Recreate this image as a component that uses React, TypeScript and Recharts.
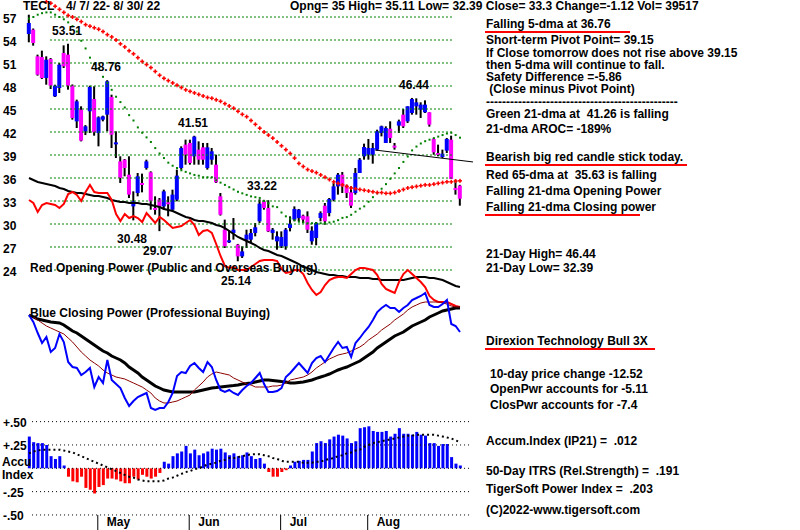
import React from "react";
import { ComposedChart, Bar, Line, XAxis, YAxis, ReferenceLine, Cell } from "recharts";

// TECL daily bars 4/7/22 - 8/30/22 (100 sessions)
const opens = [
  54.78, 55.35, 51.87, 51.78, 49.04, 51.52, 46.65, 47.74, 52.3, 52.09,
  48.04, 43.39, 44.91, 42.09, 44.7, 46.3, 41.87, 43.61, 44.26, 46.57,
  40.43, 38.17, 38.39, 36.43, 32.3, 34.04, 35.35, 37.3, 36.74, 32.09,
  33.17, 32.3, 32.83, 31.87, 33.17, 37.3, 40.35, 40.57, 38.83, 39.7,
  40.0, 37.3, 38.39, 37.74, 33.61, 29.26, 27.61, 28.83, 27.3, 25.78,
  27.96, 27.96, 28.83, 30.35, 32.96, 32.09, 28.83, 27.74, 27.09, 27.09,
  29.48, 30.57, 30.78, 31.09, 31.0, 27.74, 28.17, 30.78, 32.39, 31.43,
  33.17, 34.91, 36.43, 34.91, 34.13, 34.04, 36.65, 38.83, 39.04, 39.04,
  39.7, 41.87, 40.57, 42.43, 40.22, 42.83, 44.26, 43.39, 44.48, 45.35,
  44.91, 44.57, 44.57, 41.09, 39.26, 38.74, 39.57, 41.0, 34.7, 35.0,
];
const highs = [
  57.3, 55.5, 52.09, 52.61, 51.87, 51.65, 48.17, 51.0, 53.3, 53.51,
  48.2, 46.22, 45.35, 42.9, 48.04, 47.96, 44.04, 44.13, 48.76, 46.87,
  42.09, 38.83, 38.48, 38.83, 34.26, 36.65, 36.57, 38.39, 36.87, 33.61,
  33.39, 34.48, 33.61, 34.48, 37.09, 40.13, 41.0, 41.0, 41.51, 40.78,
  40.57, 40.57, 39.91, 39.04, 34.04, 30.57, 29.17, 30.78, 27.4, 27.09,
  29.26, 29.35, 30.13, 33.22, 33.15, 33.1, 29.48, 29.04, 29.04, 29.48,
  31.0, 32.3, 31.96, 31.22, 31.65, 29.7, 30.26, 31.65, 32.74, 33.39,
  35.35, 36.65, 36.78, 35.13, 34.91, 37.3, 38.61, 40.48, 41.09, 40.57,
  42.3, 42.83, 42.74, 43.39, 40.57, 43.61, 45.0, 45.35, 46.44, 46.39,
  45.87, 46.13, 44.57, 41.22, 40.35, 39.7, 41.22, 41.52, 35.78, 35.11,
];
const lows = [
  53.7, 53.26, 49.35, 48.91, 48.17, 47.61, 46.57, 47.09, 50.35, 47.52,
  43.61, 42.52, 40.78, 41.6, 41.87, 41.52, 40.13, 43.39, 42.09, 39.91,
  38.61, 35.35, 36.22, 33.39, 30.48, 33.61, 34.13, 37.09, 31.87, 31.22,
  29.07, 31.87, 31.0, 31.65, 32.96, 37.09, 37.74, 37.74, 37.74, 37.74,
  37.74, 37.09, 37.74, 35.35, 31.1, 26.87, 27.52, 27.96, 25.14, 25.57,
  26.87, 27.52, 28.39, 30.13, 31.87, 28.95, 27.96, 26.65, 26.87, 26.65,
  29.04, 30.35, 30.35, 30.13, 28.83, 27.3, 27.22, 30.35, 29.91, 31.0,
  32.96, 33.83, 34.04, 33.39, 32.09, 33.83, 36.65, 38.39, 38.39, 37.87,
  39.57, 41.43, 40.57, 40.57, 39.7, 41.87, 42.52, 43.17, 44.26, 44.26,
  43.83, 44.48, 42.7, 39.04, 38.83, 38.61, 39.26, 35.87, 33.83, 32.39,
];
const closes = [
  56.22, 53.61, 49.48, 49.04, 51.43, 48.04, 48.04, 50.78, 50.57, 48.04,
  43.83, 46.0, 40.87, 42.74, 47.87, 41.96, 43.91, 44.04, 48.61, 41.65,
  40.65, 36.0, 37.3, 33.83, 32.96, 36.22, 35.13, 38.17, 32.96, 31.87,
  32.3, 34.26, 32.65, 33.83, 36.3, 39.91, 39.04, 37.96, 41.4, 38.39,
  38.39, 40.0, 39.48, 35.43, 31.22, 27.09, 27.87, 29.26, 25.78, 26.43,
  28.61, 28.83, 29.57, 32.65, 32.09, 29.04, 29.26, 28.39, 28.3, 29.26,
  30.04, 31.96, 31.87, 30.57, 29.26, 29.13, 30.13, 31.43, 30.35, 33.26,
  34.91, 36.43, 34.91, 34.04, 32.39, 36.65, 38.39, 40.04, 39.91, 39.91,
  42.09, 42.74, 42.52, 41.22, 40.04, 43.39, 42.74, 45.35, 46.3, 45.87,
  45.57, 45.57, 42.96, 39.35, 39.04, 39.17, 41.09, 35.87, 34.42, 33.3,
];

// green 21-dma and red 65-dma of the close
const ma21 = [
  56.8, 57.0, 57.3, 57.5, 57.6, 57.6, 57.3, 57.0, 56.7, 56.3,
  55.8, 55.1, 53.9, 52.9, 51.7, 50.9, 50.3, 49.2, 48.4, 47.5,
  46.6, 45.9, 45.2, 44.2, 43.5, 42.6, 41.9, 41.3, 40.7, 39.9,
  39.2, 38.6, 38.0, 37.6, 37.3, 37.0, 36.8, 36.6, 36.4, 36.3,
  36.1, 36.1, 36.1, 35.7, 35.4, 35.1, 34.8, 34.5, 34.2, 34.0,
  33.8, 33.6, 33.5, 33.4, 33.0, 32.7, 32.3, 32.2, 31.5, 31.0,
  30.7, 30.5, 30.3, 30.2, 30.1, 30.1, 30.1, 30.1, 30.1, 30.2,
  30.3, 30.5, 30.8, 30.9, 31.2, 31.6, 32.0, 32.3, 32.9, 33.5,
  34.0, 34.6, 35.2, 35.9, 36.6, 37.3, 38.1, 38.8, 39.6, 40.1,
  40.5, 40.8, 41.0, 41.2, 41.4, 41.6, 41.8, 41.9, 41.6, 41.26,
];
const ma65 = [
  null, null, null, null, 59.0, 58.8, 58.4, 58.0, 57.6, 57.2,
  57.0, 56.7, 56.4, 56.0, 55.8, 55.6, 55.4, 55.1, 54.7, 54.4,
  54.0, 53.5, 53.1, 52.6, 52.2, 51.7, 51.2, 50.8, 50.4, 49.9,
  49.4, 49.0, 48.7, 48.4, 48.1, 47.8, 47.5, 47.3, 47.1, 46.9,
  46.7, 46.5, 46.4, 46.2, 46.0, 45.7, 45.4, 45.1, 44.7, 44.3,
  44.0, 43.5, 43.0, 42.5, 42.0, 41.6, 41.2, 40.7, 40.2, 39.7,
  39.2, 38.6, 37.9, 37.5, 37.1, 36.9, 36.7, 36.4, 36.1, 35.8,
  35.5, 35.3, 35.1, 34.9, 34.7, 34.6, 34.5, 34.4, 34.3, 34.2,
  34.1, 34.1, 34.0, 34.0, 34.1, 34.3, 34.5, 34.7, 34.8, 34.9,
  35.0, 35.1, 35.1, 35.2, 35.3, 35.4, 35.5, 35.5, 35.6, 35.63,
];

// opening / closing power (index units) and their averages
const openPower = [
  80, 78.5, 74, 77.5, 78.5, 78, 77.5, 76, 78, 83,
  84, 82.5, 79.5, 84, 87.5, 84, 83.5, 83.5, 83.5, 80,
  73, 69.5, 73, 71, 72, 71, 69, 73.5, 71, 68.5,
  71.5, 70, 68, 66, 66.5, 67, 68.5, 70, 67.5, 62.5,
  64.5, 65, 63.5, 58, 52, 47, 46, 46.5, 45, 45,
  45, 46.5, 48, 49.5, 50, 50, 50, 49.5, 45.5, 43.5,
  44, 45, 45, 43, 38.5, 35, 32.5, 34, 37.5, 40,
  41, 41.5, 41.5, 41, 43, 45, 46, 46, 45.5, 45,
  42.5, 38, 35.5, 34.5, 33.5, 39, 43, 45, 43, 41,
  39, 36.5, 32, 30, 29, 29, 29, 28, 27, 26.5,
];
const openPowerMa = [
  91, 90, 89, 88.5, 88, 87.5, 87, 86, 85.5, 84.5,
  84, 83.5, 83.5, 83, 82.5, 82, 82, 81.5, 81, 80,
  79.5, 79, 79, 78.5, 78.5, 78.5, 78, 78, 77.5, 77,
  76.5, 75.5, 75, 74.5, 73.5, 72.5, 71.5, 71, 70, 69.5,
  69.5, 69, 68.5, 67.5, 67, 66, 64.5, 63, 61.5, 60.5,
  59.5, 58.5, 57.5, 56, 55, 54.5, 53.5, 52.5, 52, 51,
  50, 49, 48, 46.5, 46, 45, 44, 43.5, 43, 42.5,
  42.5, 42, 42, 41.5, 41.5, 41.5, 41, 41, 41, 40.5,
  40.5, 40, 40, 40, 40, 40, 40, 40.5, 41, 41.5,
  41.5, 41.5, 41, 41, 40.5, 40, 39, 38, 37, 36.5,
];
const closePower = [
  22.5, 19, 13.5, 8.5, 11.5, 4, 6, 13, 9, -1,
  -3.5, -4, -7.5, -6, -4, -13.5, -8.5, -11.5, 0, -10,
  -12, -14, -19, -23, -20.5, -18.5, -17.5, -16.5, -24, -25,
  -24, -24, -21, -16.5, -8, -6, -6.5, -3, -1.5, -4,
  -6, -1, -3.5, -10, -15, -16, -15, -16.5, -17.5, -15,
  -13, -11.5, -9, -6.5, -12, -16, -16, -15.5, -14, -8.5,
  -6.5, -4, -1.5, -4, -6.5, -1.5, 1, 2, -1, 2.5,
  6, 9, 6, 6.5, 1.5, 8.5, 11, 14, 16.5, 20,
  24, 26, 27.5, 26, 26, 24, 26, 27.5, 30, 31,
  32, 33.5, 27.5, 26.5, 26.5, 28, 30, 18, 17, 14,
];
const closePowerMa = [
  22.5, 21.5, 20.5, 20, 19.5, 19, 18.8, 18.5, 17.5, 16,
  14.5, 13.5, 12, 10.5, 9, 7.5, 6, 4.5, 3.5, 2,
  1, 0, -1.5, -3.5, -5, -6.5, -8.5, -10, -11.5, -13,
  -14, -15, -15.5, -16, -16, -16, -16, -16, -16, -15.5,
  -15, -14.5, -14, -13.8, -13.5, -13.2, -13, -12.8, -12.5, -12,
  -11.8, -11.5, -11, -10.5, -10, -10, -10.2, -10.5, -10.8, -11,
  -11.5, -11.5, -11.2, -11, -10.5, -10, -9.2, -8.5, -7.8, -7,
  -6, -5, -4.2, -3.5, -2.5, -1.5, -0.5, 1, 2.5, 4,
  6, 7.5, 9, 10.5, 12, 13, 14, 15.5, 17, 18,
  19, 20, 21.5, 22.5, 23.5, 24.5, 25, 25.5, 26, 26,
];
const closePowerFast = [
  22.5, 21.5, 20, 18.5, 17, 16, 15, 14, 13, 11,
  9, 6.5, 4, 2, 0, -1.5, -3, -5, -6.5, -7.5,
  -8.5, -9, -9.5, -10.5, -11.5, -12.5, -13.5, -15, -16.5, -19,
  -20.5, -21.5, -21.5, -21, -20.5, -19.5, -18.5, -17.5, -15, -13,
  -11, -8.5, -7, -6, -6.5, -7, -7.5, -9, -10, -11,
  -12, -12.5, -13.5, -13.5, -13.5, -13.5, -13, -13, -12.5, -11.5,
  -10, -9.5, -9, -8.5, -7.5, -6, -4, -2.5, -1, 0.5,
  1.5, 2.5, 3, 3.5, 4.5, 5.5, 6.5, 8, 10, 11.5,
  13, 15, 16.5, 18, 20, 21.5, 23, 25, 26.5, 27.5,
  28.5, 29, 29, 29, 29, 28.5, 28, 27, 26.5, 26.5,
];

// accumulation index (IP21) and its average
const accum = [
  0.34, 0.28, 0.27, 0.27, 0.25, 0.13, 0.1, 0.13, 0.03, -0.09,
  -0.14, -0.15, -0.09, -0.21, -0.23, -0.27, -0.2, -0.18, -0.11, -0.11,
  -0.12, -0.14, -0.16, -0.16, -0.09, -0.12, -0.07, -0.09, -0.11, -0.09,
  -0.05, 0.07, 0.05, 0.13, 0.16, 0.18, 0.24, 0.16, 0.2, 0.14,
  0.16, 0.18, 0.21, 0.2, 0.21, 0.17, 0.14, 0.16, 0.13, 0.14,
  0.17, 0.13, 0.1, 0.11, 0.05, -0.04, -0.09, -0.09, -0.04, -0.02,
  0.03, 0.07, 0.08, 0.09, 0.09, 0.18, 0.27, 0.29, 0.27, 0.31,
  0.34, 0.36, 0.35, 0.32, 0.27, 0.29, 0.43, 0.44, 0.45, 0.4,
  0.39, 0.39, 0.4, 0.34, 0.37, 0.43, 0.37, 0.37, 0.36, 0.39,
  0.36, 0.35, 0.27, 0.27, 0.24, 0.26, 0.26, 0.12, 0.05, 0.03,
];
const accumMa = [
  0.16, 0.18, 0.19, 0.2, 0.2, 0.2, 0.2, 0.2, 0.19, 0.18,
  0.17, 0.15, 0.13, 0.11, 0.09, 0.07, 0.05, 0.03, 0.01, -0.01,
  -0.03, -0.05, -0.07, -0.09, -0.1, -0.12, -0.13, -0.14, -0.14, -0.14,
  -0.14, -0.13, -0.11, -0.1, -0.08, -0.06, -0.04, -0.03, -0.01, 0,
  0.02, 0.04, 0.05, 0.06, 0.08, 0.09, 0.11, 0.11, 0.12, 0.13,
  0.14, 0.15, 0.15, 0.15, 0.14, 0.13, 0.11, 0.1, 0.08, 0.07,
  0.07, 0.07, 0.07, 0.06, 0.06, 0.06, 0.07, 0.07, 0.09, 0.1,
  0.11, 0.13, 0.14, 0.16, 0.17, 0.19, 0.2, 0.23, 0.25, 0.27,
  0.28, 0.29, 0.3, 0.31, 0.32, 0.33, 0.34, 0.35, 0.35, 0.36,
  0.36, 0.36, 0.36, 0.36, 0.35, 0.34, 0.33, 0.32, 0.3, 0.28,
];

const priceTicks = [57, 54, 51, 48, 45, 42, 39, 36, 33, 30, 27, 24];
const accumTicks = [0.5, 0.25, 0, -0.25, -0.5];
const accumTickLabels = ["+.50", "+.25", "", "-.25", "-.50"];
const months = [
  { name: "May", start: 16 },
  { name: "Jun", start: 37 },
  { name: "Jul", start: 58 },
  { name: "Aug", start: 78 },
];

const FONT = "'Liberation Sans', Arial, sans-serif";

const rows = opens.map((o, i) => ({
  i,
  o,
  h: highs[i],
  l: lows[i],
  c: closes[i],
  range: [lows[i], highs[i]],
  ma21: ma21[i],
  ma65: ma65[i],
  op: openPower[i],
  opMa: openPowerMa[i],
  cp: closePower[i],
  cpMa: closePowerMa[i],
  cpFast: closePowerFast[i],
  acc: accum[i],
  accMa: accumMa[i],
}));

const Candle = (props: any) => {
  const { x, y, width, height, payload } = props;
  if (!payload || x == null || y == null) return <g />;
  const top0 = height >= 0 ? y : y + height;
  const h = Math.abs(height);
  const span = payload.h - payload.l || 1;
  const toY = (v: number) => top0 + ((payload.h - v) / span) * h;
  const up = payload.c >= payload.o;
  const bTop = toY(Math.max(payload.o, payload.c));
  const bBot = toY(Math.min(payload.o, payload.c));
  const cx = x + width / 2;
  return (
    <g>
      <rect x={cx - 1} y={top0} width={2} height={Math.max(h, 1)} fill="#000" />
      <rect
        x={x}
        y={bTop}
        width={width}
        height={Math.max(bBot - bTop, 2)}
        fill={up ? "#0000ff" : "#ff00ff"}
      />
    </g>
  );
};

const GreenDot = (p: any) => {
  if (p.cx == null || p.cy == null || p.value == null) return <g key={p.key} />;
  return <rect key={p.key} x={p.cx - 1} y={p.cy - 1} width={2} height={2} fill="#008000" />;
};

const RedCross = (p: any) => {
  if (p.cx == null || p.cy == null || p.value == null) return <g key={p.key} />;
  return (
    <g key={p.key}>
      <rect x={p.cx - 2} y={p.cy - 0.75} width={4} height={1.5} fill="#ff0000" />
      <rect x={p.cx - 0.75} y={p.cy - 2} width={1.5} height={4} fill="#ff0000" />
    </g>
  );
};

const TickText = ({ viewBox, text, dy }: any) =>
  viewBox ? (
    <text x={3} y={viewBox.y + dy} fontSize={12} fontWeight="bold" fontFamily={FONT} fill="#000">
      {text}
    </text>
  ) : null;

const MonthText = ({ viewBox, text }: any) =>
  viewBox ? (
    <text x={viewBox.x + 9} y={526} fontSize={12} fontWeight="bold" fontFamily={FONT} fill="#000">
      {text}
    </text>
  ) : null;

const T = ({ x, y, children, lh = 11 }: any) => (
  <div
    style={{
      position: "absolute",
      left: x,
      top: y,
      fontSize: 12,
      lineHeight: `${lh}px`,
      fontWeight: "bold",
      fontFamily: FONT,
      whiteSpace: "pre",
      color: "#000",
    }}
  >
    {children}
  </div>
);

const Underline = ({ x, y, w }: any) => (
  <div style={{ position: "absolute", left: x, top: y, width: w, height: 2, background: "#ff0000" }} />
);

export default function App() {
  return (
    <div style={{ position: "absolute", left: 0, top: 0, width: 800, height: 530, background: "#fff", overflow: "hidden" }}>
      <ComposedChart width={800} height={530} data={rows} margin={{ top: 0, right: 0, bottom: 0, left: 0 }}>
        <XAxis xAxisId="main" type="number" dataKey="i" domain={[-6.661, 177.1]} allowDataOverflow hide />
        <XAxis xAxisId="acc" type="number" dataKey="i" domain={[-6.661, 177.1]} allowDataOverflow hide />
        <YAxis yAxisId="price" domain={[-9.913, 59.2174]} allowDataOverflow hide />
        <YAxis yAxisId="power" domain={[-85, 180]} allowDataOverflow hide />
        <YAxis yAxisId="acc" domain={[-0.6611, 5.0175]} allowDataOverflow hide />

        {priceTicks.map((t) => (
          <ReferenceLine
            key={`p${t}`}
            xAxisId="main"
            yAxisId="price"
            segment={[{ x: 4.82, y: t }, { x: 97.4, y: t }]}
            stroke="#008000"
            strokeDasharray="2 2"
            ifOverflow="visible"
            label={<TickText text={String(t)} dy={6} />}
          />
        ))}
        {accumTicks.map((t, k) => (
          <ReferenceLine
            key={`a${t}`}
            xAxisId="acc"
            yAxisId="acc"
            segment={[{ x: 0.7, y: t }, { x: 101.7, y: t }]}
            stroke="#000"
            strokeDasharray="1 3"
            ifOverflow="visible"
            label={<TickText text={accumTickLabels[k]} dy={5} />}
          />
        ))}
        {months.map((m) => (
          <ReferenceLine
            key={m.name}
            xAxisId="acc"
            yAxisId="acc"
            segment={[{ x: m.start - 0.2, y: -0.5 }, { x: m.start - 0.2, y: -0.6611 }]}
            stroke="#000"
            strokeWidth={1}
            ifOverflow="visible"
            label={<MonthText text={m.name} />}
          />
        ))}
        <ReferenceLine
          xAxisId="main"
          yAxisId="price"
          segment={[{ x: 79.5, y: 39.65 }, { x: 102, y: 38.09 }]}
          stroke="#000"
          strokeWidth={1}
          ifOverflow="visible"
        />

        <Bar xAxisId="acc" yAxisId="acc" dataKey="acc" barSize={3} isAnimationActive={false}>
          {rows.map((r) => (
            <Cell key={r.i} fill={r.acc >= 0 ? "#0000ff" : "#ff0000"} />
          ))}
        </Bar>
        <Line xAxisId="acc" yAxisId="acc" dataKey="accMa" stroke="#000" strokeWidth={2} strokeDasharray="2 3" dot={false} activeDot={false} isAnimationActive={false} />

        <Line xAxisId="main" yAxisId="power" dataKey="opMa" stroke="#000" strokeWidth={2} dot={false} activeDot={false} isAnimationActive={false} />
        <Line xAxisId="main" yAxisId="power" dataKey="op" stroke="#ff0000" strokeWidth={2} dot={false} activeDot={false} isAnimationActive={false} />
        <Line xAxisId="main" yAxisId="power" dataKey="cpMa" stroke="#000" strokeWidth={3} dot={false} activeDot={false} isAnimationActive={false} />
        <Line xAxisId="main" yAxisId="power" dataKey="cpFast" stroke="#8b0000" strokeWidth={1} dot={false} activeDot={false} isAnimationActive={false} />
        <Line xAxisId="main" yAxisId="power" dataKey="cp" stroke="#0000ff" strokeWidth={2} dot={false} activeDot={false} isAnimationActive={false} />

        <Bar xAxisId="main" yAxisId="price" dataKey="range" barSize={4} shape={<Candle />} isAnimationActive={false} />
        <Line xAxisId="main" yAxisId="price" dataKey="ma21" stroke="none" dot={<GreenDot />} activeDot={false} isAnimationActive={false} />
        <Line xAxisId="main" yAxisId="price" dataKey="ma65" stroke="none" dot={<RedCross />} activeDot={false} isAnimationActive={false} />
      </ComposedChart>

      <T x={23} y={1}>TECL</T>
      <T x={66} y={1}>4/ 7/ 22- 8/ 30/ 22</T>
      <T x={290} y={1}>Opng= 35 High= 35.11 Low= 32.39 Close= 33.3 Change=-1.12 Vol= 39517</T>

      <T x={52} y={26}>53.51</T>
      <T x={91} y={62}>48.76</T>
      <T x={178} y={118}>41.51</T>
      <T x={247} y={181}>33.22</T>
      <T x={399} y={80}>46.44</T>
      <T x={117} y={234}>30.48</T>
      <T x={143} y={246}>29.07</T>
      <T x={221} y={276}>25.14</T>
      <T x={30} y={263}>Red Opening Power (Public and Overseas Buying)</T>
      <T x={30} y={308}>Blue Closing Power (Professional Buying)</T>

      <T x={2} y={456} lh={13}>{"Accu\nIndex"}</T>

      <T x={486} y={19}>Falling 5-dma at 36.76</T>
      <Underline x={485} y={31} w={145} />
      <T x={486} y={34.3} lh={12.25}>
        {"Short-term Pivot Point= 39.15\nIf Close tomorrow does not rise above 39.15\nthen 5-dma will continue to fall.\nSafety Difference =-5.86\n (Close minus Pivot Point)\n------------------------------------------------"}
      </T>
      <T x={486} y={109}>Green 21-dma at  41.26 is falling</T>
      <T x={486} y={124}>21-dma AROC= -189%</T>
      <T x={486} y={152}>Bearish big red candle stick today.</T>
      <Underline x={485} y={164} w={202} />
      <T x={486} y={170}>Red 65-dma at  35.63 is falling</T>
      <T x={486} y={186}>Falling 21-dma Opening Power</T>
      <T x={486} y={202}>Falling 21-dma Closing power</T>
      <Underline x={485} y={214} w={155} />
      <T x={486} y={247} lh={14}>{"21-Day High= 46.44\n21-Day Low= 32.39"}</T>

      <T x={486} y={336}>Direxion Technology Bull 3X</T>
      <Underline x={485} y={348} w={170} />
      <T x={490} y={369}>10-day price change -12.52</T>
      <T x={490} y={384}>OpenPwr accounts for -5.11</T>
      <T x={490} y={400}>ClosPwr accounts for -7.4</T>
      <T x={486} y={436}>Accum.Index (IP21) =  .012</T>
      <T x={486} y={466}>50-Day ITRS (Rel.Strength) =  .191</T>
      <T x={486} y={484}>TigerSoft Power Index =  .203</T>
      <T x={486} y={505}>(C)2022-www.tigersoft.com</T>
    </div>
  );
}
